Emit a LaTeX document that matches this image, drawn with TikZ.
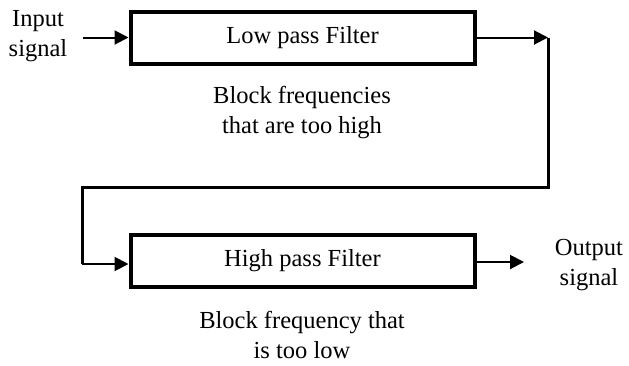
\documentclass[tikz,border=0pt]{standalone}
\usepackage{fontspec}
\setmainfont{Liberation Serif}
\usetikzlibrary{arrows.meta}
\begin{document}
\begin{tikzpicture}[x=1pt,y=-1pt,
  filt/.style={draw,line width=4pt,minimum width=344pt,minimum height=52pt,inner sep=0pt,font=\fontsize{24.5}{29}\selectfont},
  lbl/.style={align=center,inner sep=0pt,font=\fontsize{24.5}{29.5}\selectfont},
  arr/.style={line width=2pt,-{Triangle[length=14pt,width=14pt]}},
  route/.style={line width=3pt}]
\useasboundingbox (0,0) rectangle (629,365);
\node[filt] (lp) at (302.5,37.5) {Low pass Filter};
\node[filt] (hp) at (302.5,260.5) {High pass Filter};
\node[lbl] (in) at (38,36) {Input\\signal};
\node[lbl] (out) at (589,265) {Output\\signal};
\node[lbl] (lpt) at (302,112.5) {Block frequencies\\that are too high};
\node[lbl] (hpt) at (302,335) {Block frequency that\\is too low};
\coordinate (c1) at (548,37.5);
\coordinate (c2) at (548,187);
\coordinate (c3) at (82,187);
\coordinate (c4) at (82,264);
\coordinate (o1) at (524,262);
\draw[arr] (83,37.5) coordinate (i0) -- (lp.west);
\draw[arr] (lp.east) -- (c1);
\draw[route,line join=miter] (c1) -- (c2) -- (c3) -- (c4);
\draw[arr] (c4) -- (hp.west |- c4);
\draw[arr] (hp.east |- o1) -- (o1);
\end{tikzpicture}
\end{document}
